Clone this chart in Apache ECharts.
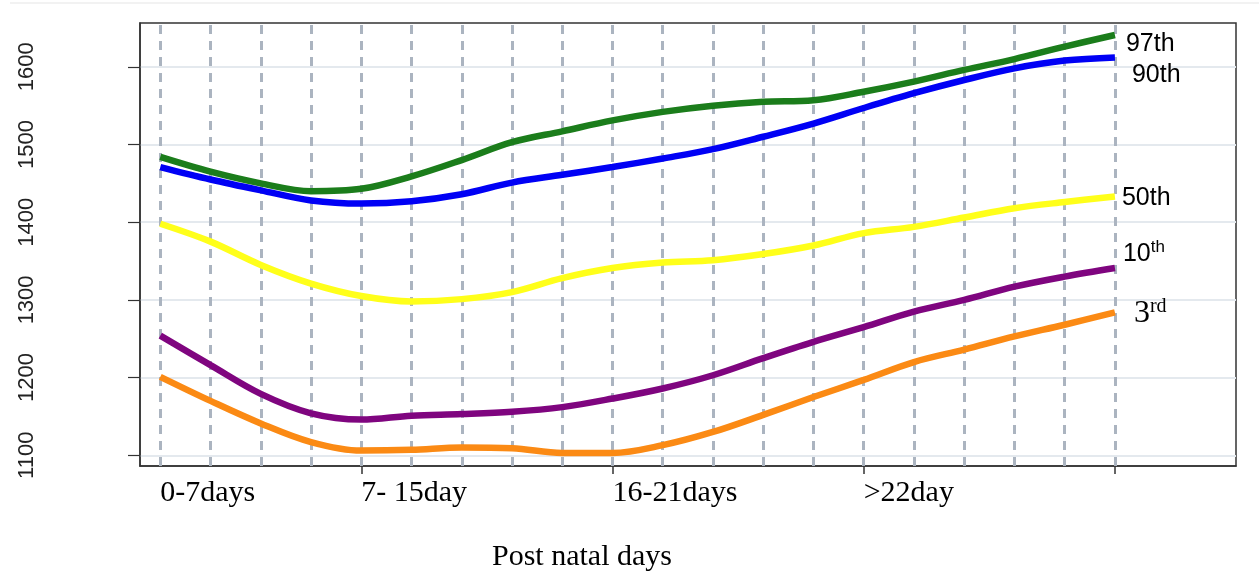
<!DOCTYPE html>
<html>
<head>
<meta charset="utf-8">
<script src="https://cdn.jsdelivr.net/npm/echarts@6/dist/echarts.min.js"></script>
<style>
html,body{margin:0;padding:0;background:#fff;}
#chart{width:1259px;height:573px;}
</style>
</head>
<body>
<div id="chart"></div>
<script>
// Measurement points along x (20 evenly spaced points)
const xPoints = [0,1,2,3,4,5,6,7,8,9,10,11,12,13,14,15,16,17,18,19];
// Category labels and the point where each starts
const xLabelPositions = [0, 4, 9, 14];
const xLabelTexts = ['0-7days', '7- 15day', '16-21days', '>22day'];
const xTickPositions = [4, 9, 14, 19];
const yTicks = [1100, 1200, 1300, 1400, 1500, 1600];
const xAxisTitle = 'Post natal days';

const seriesNames = ['97th', '90th', '50th', '10th', '3rd'];
const p97 = [1484,1465,1450,1440,1443,1459,1480,1503,1517,1531,1542,1550,1555,1557,1568,1581,1596,1610,1626,1641];
const p90 = [1471,1455,1441,1428,1424,1427,1436,1451,1461,1471,1482,1494,1510,1527,1547,1566,1583,1598,1608,1612];
const p50 = [1398,1375,1345,1321,1305,1298,1301,1310,1328,1341,1348,1351,1359,1370,1386,1394,1406,1418,1426,1433];
const p10 = [1254,1216,1179,1154,1146,1151,1153,1156,1162,1173,1186,1203,1225,1246,1265,1285,1300,1317,1330,1341];
const p3  = [1201,1170,1141,1117,1106,1107,1110,1109,1103,1103,1113,1130,1152,1175,1197,1220,1236,1253,1268,1284];

const seriesData = [p97, p90, p50, p10, p3];
const colors = ['#1b7d1b', '#0000f5', '#ffff1a', '#7f057f', '#fb8a14'];
const labelOffsets = [[6, 9], [12, 18], [2, 2], [3, -14], [14, 1]];

const chart = echarts.init(document.getElementById('chart'), null, {renderer: 'canvas'});

function splitSuffix(name) {
  const m = name.match(/^(\d+)(\D+)$/);
  return m ? [m[1], m[2]] : [name, ''];
}

const lineSeries = seriesNames.map((name, i) => {
  let formatter;
  let rich = {};
  if (i === 3) {
    const parts = splitSuffix(name);
    formatter = '{n|' + parts[0] + '}{s|' + parts[1] + '}';
    rich = {
      n: {fontFamily: 'Liberation Sans, Arial, sans-serif', fontSize: 25, color: '#000', lineHeight: 30},
      s: {fontFamily: 'Liberation Sans, Arial, sans-serif', fontSize: 17, color: '#000', verticalAlign: 'top', lineHeight: 30, padding: [0,0,14,0]}
    };
  } else if (i === 4) {
    const parts = splitSuffix(name);
    formatter = '{n|' + parts[0] + '}{s|' + parts[1] + '}';
    rich = {
      n: {fontFamily: 'Liberation Serif, Times New Roman, serif', fontSize: 32, color: '#000', lineHeight: 34},
      s: {fontFamily: 'Liberation Serif, Times New Roman, serif', fontSize: 20, color: '#000', verticalAlign: 'top', lineHeight: 34, padding: [0,0,16,0]}
    };
  } else {
    formatter = name;
  }
  return {
    name: name,
    type: 'line',
    data: seriesData[i].map((v, k) => [xPoints[k], v]),
    smooth: 0.35,
    showSymbol: false,
    symbol: 'none',
    z: 5,
    lineStyle: {color: colors[i], width: 6.5, cap: 'butt'},
    itemStyle: {color: colors[i]},
    endLabel: {
      show: true,
      formatter: formatter,
      rich: rich,
      distance: 5,
      offset: labelOffsets[i],
      fontFamily: 'Liberation Sans, Arial, sans-serif',
      fontSize: 25,
      color: '#000'
    },
    labelLayout: {hideOverlap: false}
  };
});

const gridSeries = {
  type: 'line',
  data: [],
  z: 1,
  silent: true,
  markLine: {
    silent: true,
    symbol: ['none', 'none'],
    label: {show: false},
    animation: false,
    lineStyle: {color: '#abb4c0', width: 3, type: [9, 7]},
    emphasis: {disabled: true},
    data: xPoints.map(x => ({xAxis: x}))
  }
};

const option = {
  animation: false,
  backgroundColor: '#ffffff',
  title: {
    text: xAxisTitle,
    left: 487,
    top: 537,
    textStyle: {fontFamily: 'Liberation Serif, Times New Roman, serif', fontSize: 30, fontWeight: 'normal', color: '#000'}
  },
  grid: {
    left: 140, right: 23, top: 23, bottom: 107,
    show: true, borderColor: '#333', borderWidth: 1.5, backgroundColor: 'transparent'
  },
  xAxis: {
    type: 'value',
    min: -0.404,
    max: 21.41,
    axisLine: {show: true, onZero: false, lineStyle: {color: '#333', width: 1.5}},
    axisTick: {show: true, customValues: xTickPositions, length: 8, lineStyle: {color: '#333', width: 1.5}},
    axisLabel: {
      show: true,
      customValues: xLabelPositions,
      formatter: function (v) {
        const idx = xLabelPositions.indexOf(Math.round(v));
        return idx >= 0 ? xLabelTexts[idx] : '';
      },
      align: 'left',
      margin: 12,
      fontFamily: 'Liberation Serif, Times New Roman, serif',
      fontSize: 30,
      color: '#000'
    },
    splitLine: {show: false}
  },
  yAxis: {
    type: 'value',
    min: 1086.2,
    max: 1656.4,
    axisLine: {show: true, onZero: false, lineStyle: {color: '#333', width: 1.5}},
    axisTick: {show: true, customValues: yTicks, length: 12, lineStyle: {color: '#333', width: 1.2}},
    axisLabel: {
      show: true,
      customValues: yTicks,
      formatter: function (v) { return String(Math.round(v)); },
      rotate: 90,
      margin: 102,
      fontFamily: 'Liberation Sans, Arial, sans-serif',
      fontSize: 22,
      color: '#222'
    },
    splitLine: {show: true, lineStyle: {color: '#e4e9ee', width: 2}}
  },
  graphic: [{
    type: 'line',
    shape: {x1: 10, y1: 3, x2: 1259, y2: 3},
    style: {stroke: '#eeeeee', lineWidth: 1.5},
    silent: true
  }],
  series: [gridSeries].concat(lineSeries)
};

chart.setOption(option);
</script>
</body>
</html>
